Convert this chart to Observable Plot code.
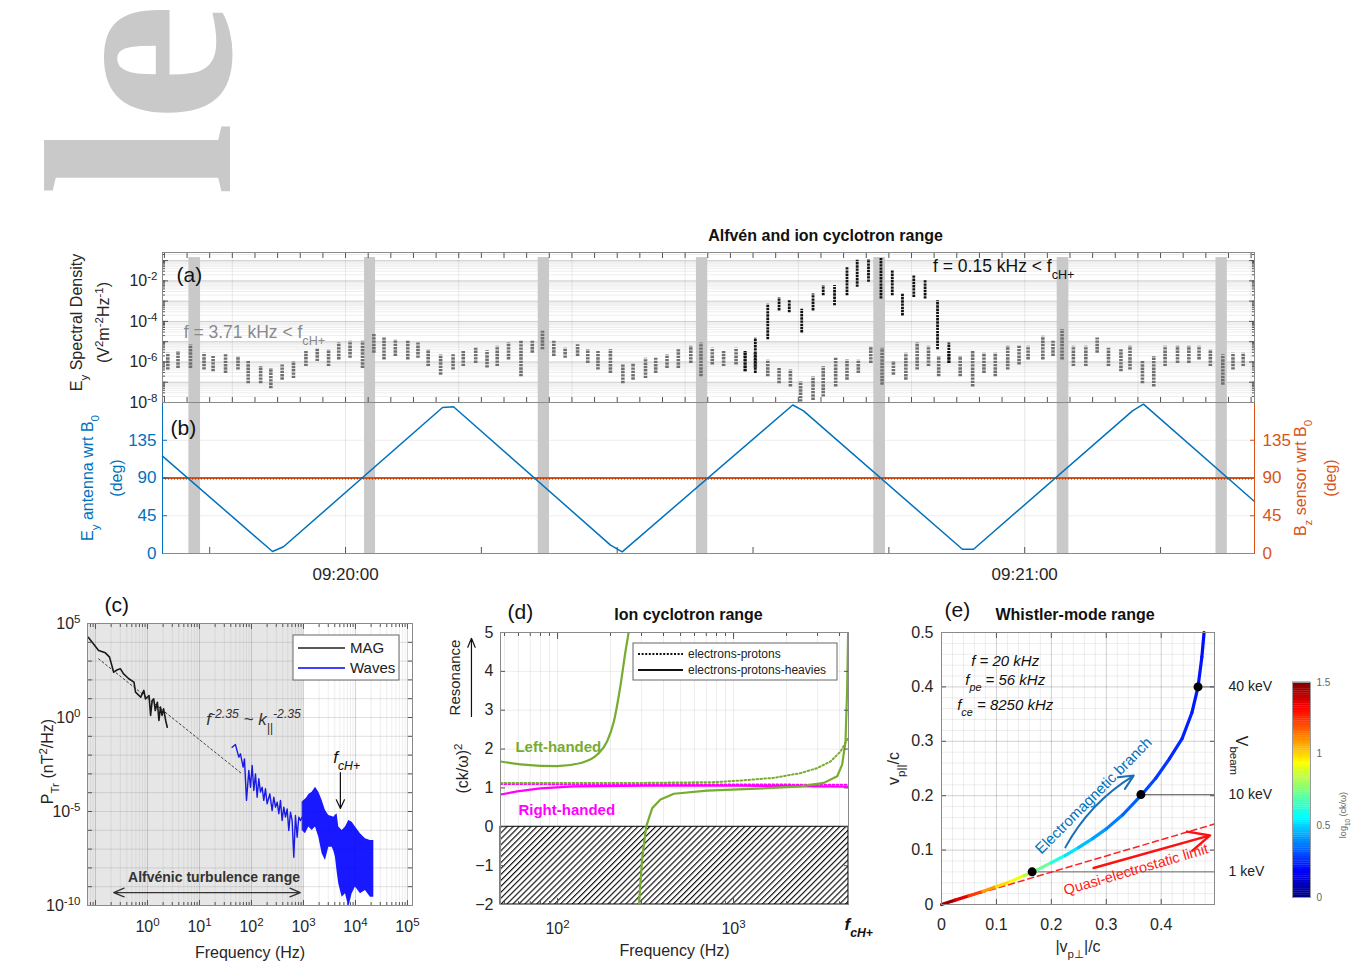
<!DOCTYPE html>
<html><head><meta charset="utf-8">
<script src="https://cdn.jsdelivr.net/npm/d3@7"></script>
<script src="https://cdn.jsdelivr.net/npm/@observablehq/plot@0.6"></script>
<style>
body{margin:0;background:#fff;}
#fig{position:relative;width:1363px;height:967px;overflow:hidden;font-family:'Liberation Sans',Arial,'DejaVu Sans',sans-serif;background:#fff;}
#fig svg{position:absolute;}
</style></head><body><div id="fig"></div>
<script>
// ================= DATA =================
// (a) E_y spectral density clusters: [seconds after 09:20:00, log10 low, log10 high]
const grayClusters = [
[-15.7,-6.40,-5.57],[-14.8,-6.32,-5.48],[-13.7,-6.32,-5.15],[-12.5,-6.40,-5.57],[-11.7,-6.48,-5.73],
[-10.6,-6.57,-5.65],[-9.5,-6.40,-5.73],[-8.6,-7.07,-5.98],[-7.5,-7.07,-6.23],[-6.6,-7.32,-6.32],
[-5.6,-6.90,-6.15],[-4.6,-6.82,-5.98],[-3.5,-6.23,-5.48],[-2.5,-5.98,-5.32],[-1.5,-6.23,-5.40],
[-0.6,-5.90,-5.07],[0.4,-5.82,-4.98],[1.5,-6.32,-4.98],[2.5,-5.57,-4.65],[3.4,-5.90,-4.82],
[4.4,-5.73,-4.90],[5.5,-5.90,-4.98],[6.4,-5.82,-5.07],[7.3,-6.23,-5.40],[8.4,-6.65,-5.65],
[9.5,-6.40,-5.65],[10.4,-6.23,-5.48],[11.5,-6.07,-5.32],[12.5,-6.30,-5.45],[13.4,-6.23,-5.23],
[14.4,-5.90,-5.07],[15.5,-6.73,-4.98],[16.5,-5.57,-4.98],[17.4,-5.40,-4.48],[18.4,-5.73,-4.98],
[19.4,-5.82,-5.32],[20.5,-5.73,-5.15],[21.4,-6.07,-5.40],[22.3,-6.40,-5.48],[23.4,-6.57,-5.40],
[24.5,-7.07,-6.15],[25.4,-6.90,-6.07],[26.5,-6.82,-5.82],[27.4,-6.57,-5.82],[28.4,-6.32,-5.65],
[29.4,-6.32,-5.40],[30.5,-6.07,-5.23],[31.4,-6.73,-5.07],[32.4,-6.15,-5.32],[33.4,-6.23,-5.48],
[34.5,-6.15,-5.32],[35.3,-6.48,-5.48],[36.2,-6.32,-5.57],[37.3,-6.73,-5.90],[38.3,-7.07,-6.32],
[39.3,-7.23,-6.40],[40.2,-7.98,-6.98],[41.3,-7.90,-6.73],[42.2,-7.73,-6.23],[43.3,-7.23,-5.82],
[44.3,-6.90,-5.90],[45.3,-6.57,-5.90],[46.4,-6.07,-5.25],[47.4,-7.15,-5.32],[48.4,-6.65,-5.98],
[49.5,-6.90,-5.57],[50.5,-6.40,-5.07],[51.5,-6.23,-5.23],[52.4,-6.73,-5.73],[53.3,-6.07,-5.48],
[54.3,-6.73,-5.73],[55.4,-7.23,-5.48],[56.4,-6.57,-5.57],[57.4,-6.73,-5.57],[58.5,-6.40,-5.23],
[59.5,-6.15,-5.23],[60.3,-5.90,-5.23],[61.6,-5.90,-4.73],[62.5,-5.73,-4.98],[63.3,-5.90,-4.40],
[64.3,-6.23,-5.23],[65.4,-6.23,-5.23],[66.4,-5.57,-4.82],[67.4,-6.23,-5.32],[68.5,-6.48,-5.40],
[69.3,-6.40,-5.23],[70.4,-7.07,-5.98],[71.4,-7.23,-5.73],[72.4,-6.23,-5.23],[73.5,-6.07,-5.23],
[74.5,-6.07,-5.23],[75.4,-5.90,-5.23],[76.4,-6.23,-5.40],[77.5,-7.15,-5.65],[78.4,-6.40,-5.57],
[79.3,-6.23,-5.57]];
const blackClusters = [
[35.3,-6.48,-5.48],[36.2,-6.57,-4.82],[37.3,-4.90,-3.15],[38.3,-3.48,-2.82],[39.2,-3.57,-2.98],
[40.3,-4.57,-3.40],[41.3,-3.48,-2.65],[42.2,-2.73,-2.23],[43.2,-3.23,-2.23],[44.3,-2.73,-1.32],
[45.2,-2.32,-0.98],[46.2,-2.07,-0.95],[47.3,-2.90,-0.90],[48.3,-2.73,-1.48],[49.2,-3.73,-2.65],
[50.2,-2.82,-1.73],[51.2,-2.90,-1.98],[52.3,-5.40,-2.98],[53.3,-6.07,-5.07]];
// (b) E_y antenna angle (deg) vertices and shaded crossing intervals (s after 09:20:00)
const antennaAngle = [[-16.17,116],[-6.45,2.4],[-5.48,8],[8.57,174],[9.54,175],[23.41,10],[24.44,2],
[39.51,177],[40.46,170],[54.5,5],[55.48,5],[69.52,170],[70.49,178],[80.3,62]];
const sensorAngle = 90;
const crossingBands = [[-13.84,-12.81],[1.68,2.65],[17.02,18.02],[31.0,32.0],[46.67,47.7],[62.87,63.9],[76.9,77.9]];
// (c) spectra [log10 f, log10 P]
const magSpectrum = [[-1.14,4.27],[-1.03,3.88],[-0.94,3.56],[-0.81,3.44],[-0.73,3.21],[-0.65,2.41],[-0.58,2.54],
[-0.52,2.59],[-0.46,2.32],[-0.36,2.06],[-0.26,1.88],[-0.23,1.35],[-0.18,1.22],[-0.13,1.08],[-0.07,1.44],
[-0.04,0.99],[0.03,1.17],[0.06,0.11],[0.09,0.90],[0.12,0.99],[0.15,0.37],[0.19,0.81],[0.22,-0.16],
[0.25,0.55],[0.28,0.11],[0.31,0.46],[0.35,-0.16],[0.38,-0.52]];
const wavesSpectrum = [[1.628,-1.58],[1.692,-1.44],[1.756,-2.11],[1.788,-1.93],[1.840,-2.64],[1.865,-2.20],
[1.904,-4.41],[1.949,-2.82],[1.981,-3.71],[2.013,-2.55],[2.045,-3.88],[2.077,-3.00],[2.109,-4.24],
[2.141,-3.26],[2.173,-3.97],[2.205,-3.71],[2.237,-4.41],[2.269,-3.79],[2.301,-4.59],[2.353,-4.06],
[2.397,-4.95],[2.429,-4.24],[2.462,-4.77],[2.494,-4.50],[2.526,-5.12],[2.558,-4.41],[2.590,-5.48],
[2.622,-4.77],[2.654,-5.30],[2.686,-4.86],[2.718,-6.01],[2.750,-5.04],[2.782,-5.48],[2.814,-7.43],
[2.846,-5.21],[2.878,-6.37],[2.910,-5.30],[2.942,-5.48],[2.974,-5.3]];
const wavesBand = [[2.974,-6.01,-4.50],[3.038,-6.19,-4.35],[3.071,-6.0,-4.24],[3.103,-5.83,-4.10],
[3.167,-6.01,-3.97],[3.231,-5.83,-3.71],[3.295,-6.37,-3.97],[3.359,-7.25,-4.41],[3.423,-7.61,-4.95],
[3.487,-6.90,-5.21],[3.551,-6.90,-5.27],[3.583,-7.10,-5.30],[3.615,-7.43,-5.20],[3.647,-8.20,-5.12],
[3.679,-8.85,-5.83],[3.744,-9.56,-6.01],[3.808,-9.38,-5.83],[3.872,-10.09,-5.48],[3.936,-9.38,-5.57],
[4.000,-9.02,-5.83],[4.096,-9.38,-6.19],[4.192,-9.20,-6.45],[4.288,-9.56,-6.54],[4.353,-9.56,-6.54]];
const powerLawFit = [[-0.94,3.12],[1.82,-3.0]];
const fcHArrowC = [3.71,-2.93,-4.84];          // log10 f, log10 P start, log10 P end
const alfvenRange = [-0.65,2.94,-9.31];        // log10 f from, to, log10 P
// (d) (ck/omega)^2 curves [log10 f, value]
const leftHeavyLow = [[1.676,1.68],[1.807,1.60],[1.998,1.56],[2.131,1.64],[2.226,1.86],[2.282,2.20],
[2.320,2.71],[2.358,3.65],[2.386,4.51],[2.405,5.03]];
const leftHeavyHigh = [[2.462,-2.03],[2.481,-0.80],[2.504,0.01],[2.538,0.48],[2.585,0.70],[2.661,0.85],
[2.850,0.93],[3.134,0.98],[3.380,1.04],[3.513,1.13],[3.589,1.30],[3.617,1.60],[3.636,2.20],[3.645,3.48],[3.651,5.05]];
const leftEP = [[1.676,1.13],[2.5,1.13],[2.9,1.15],[3.039,1.19],[3.229,1.26],[3.380,1.38],[3.475,1.51],
[3.551,1.68],[3.608,1.94],[3.636,2.16],[3.653,2.30]];
const rightHeavy = [[1.676,0.83],[1.771,0.91],[1.903,0.99],[2.093,1.04],[2.5,1.06],[3.0,1.06],[3.5,1.04],[3.653,1.03]];
const rightEP = [[1.676,1.10],[3.0,1.09],[3.653,1.08]];
// (e) whistler resonance curve [|v_perp|/c, v_par/c, log10(ck/omega)]
const eCurve = [[0.000,0.000,1.50],[0.025,0.008,1.42],[0.050,0.016,1.30],[0.075,0.024,1.15],[0.100,0.033,1.02],
[0.125,0.042,0.95],[0.150,0.053,0.88],[0.175,0.064,0.78],[0.200,0.077,0.66],[0.225,0.090,0.56],
[0.250,0.105,0.49],[0.275,0.121,0.44],[0.300,0.139,0.40],[0.330,0.165,0.35],[0.363,0.200,0.31],
[0.390,0.232,0.28],[0.415,0.268,0.26],[0.438,0.305,0.24],[0.456,0.353,0.23],[0.467,0.400,0.22],
[0.474,0.455,0.21],[0.478,0.500,0.20]];
const eBeams = [[0.165,0.06,"1 keV"],[0.363,0.202,"10 keV"],[0.467,0.40,"40 keV"]];
const eQuasiES = [[0,0],[0.497,0.148]];
const eQuasiArrow = [0.277,0.067,0.489,0.127];
const eEMArrow = [0.2255,0.105,0.35,0.237];
// tick labels
const aYTicks = [1e-8,1e-6,1e-4,1e-2];
const bYTicks = [0,45,90,135];
const timeLabels = [0,60];
const cXTicks = [1,10,100,1e3,1e4,1e5];
const cYTicks = [1e5,1,1e-5,1e-10];
const dXTicks = [100,1000];
const dYTicks = [-2,-1,0,1,2,3,4,5];
const eXTicks = [0,0.1,0.2,0.3,0.4];
const eYTicks = [0,0.1,0.2,0.3,0.4,0.5];
const cbTicks = [0,0.5,1,1.5];

// ================= HELPERS =================
const FONT = "'Liberation Sans', Arial, 'DejaVu Sans', sans-serif";
const fig = document.getElementById("fig");
const css = s => ({fontFamily: FONT, fontSize: s + "px", background: "transparent", color: "#262626", overflow: "visible"});
function place(svg, left, top) { svg.style.left = left + "px"; svg.style.top = top + "px"; fig.appendChild(svg); rich(svg); return svg; }
function rich(root) {
  root.querySelectorAll("text").forEach(el => {
    if (el.childElementCount) return;
    const t = el.textContent;
    if (!/[_^]\{/.test(t)) return;
    el.textContent = "";
    const re = /([_^])\{([^}]*)\}/g;
    let last = 0, m;
    const add = (s, k) => {
      const ts = document.createElementNS("http://www.w3.org/2000/svg", "tspan");
      ts.textContent = s;
      if (k) { ts.setAttribute("baseline-shift", k === "^" ? "super" : "sub"); ts.setAttribute("font-size", "72%"); }
      el.appendChild(ts);
    };
    while ((m = re.exec(t))) { if (m.index > last) add(t.slice(last, m.index)); add(m[2], m[1]); last = re.lastIndex; }
    if (last < t.length) add(t.slice(last));
  });
}
function logTicks(lo, hi) { const out = []; for (let n = Math.floor(Math.log10(lo)); n <= Math.ceil(Math.log10(hi)); n++) for (let k = 1; k < 10; k++) { const v = k * 10 ** n; if (v >= lo * 0.9999 && v <= hi * 1.0001) out.push(v); } return out; }
function decades(a, b) { return d3.range(a, b + 1).map(n => 10 ** n); }
const expFmt = d => `10^{${Math.round(Math.log10(d))}}`;
const T0 = Date.UTC(2000, 0, 1, 9, 20, 0);
const toDate = s => new Date(T0 + s * 1000);
const secs = (a, b, st) => d3.range(a, b + 1e-9, st).map(toDate);
const tMin = toDate(-16.17), tMax = toDate(80.3);
const inY = (anchor, ticks, size, color = "#555") => Plot.axisY(ticks, {anchor, tickSize: -size, tickFormat: () => "", label: null, color});
const inX = (anchor, ticks, size, color = "#555") => Plot.axisX(ticks, {anchor, tickSize: -size, tickFormat: () => "", label: null, color});
const GRID = {stroke: "#000", strokeOpacity: 0.07};
const GRID2 = {stroke: "#000", strokeOpacity: 0.12};
const FRAME = "#8a8a8a";
const jetDom = [0, 0.1875, 0.5625, 0.9375, 1.3125, 1.5];
const jetRange = ["#00007f", "#0000ff", "#00ffff", "#ffff00", "#ff0000", "#7f0000"];
const BLUE = "#0072BD", ORANGE = "#D95319";

// ================= WATERMARK =================
{
  const s = d3.create("svg").attr("width", 300).attr("height", 192).attr("viewBox", "0 0 300 192");
  s.append("text").attr("transform", "translate(230,3) rotate(-90)").attr("text-anchor", "end")
    .attr("font-family", "'Liberation Serif','DejaVu Serif',serif").attr("font-weight", "bold").attr("font-size", 268)
    .attr("fill", "#c9c9c9").text("Article");
  place(s.node(), 0, 0);
}

// ================= PANEL (b) =================
const angleRows = antennaAngle.map(([t, a]) => ({t: toDate(t), a}));
const bandRowsB = crossingBands.map(([a, b]) => ({t1: toDate(a), t2: toDate(b), y1: 0, y2: 180}));
place(Plot.plot({
  width: 1363, height: 204, marginLeft: 162, marginRight: 109, marginTop: 16, marginBottom: 37,
  style: css(17),
  x: {type: "utc", domain: [tMin, tMax], axis: null},
  y: {domain: [0, 180], axis: null},
  marks: [
    Plot.gridY([45, 90, 135], {stroke: "#000", strokeOpacity: 0.07}),
    Plot.gridX(timeLabels.map(toDate), {stroke: "#000", strokeOpacity: 0.1}),
    Plot.rect(bandRowsB, {x1: "t1", x2: "t2", y1: "y1", y2: "y2", fill: "#c9c9c9"}),
    Plot.ruleY([sensorAngle], {stroke: ORANGE, strokeWidth: 2}),
    Plot.ruleY([sensorAngle], {stroke: "#7a2608", strokeWidth: 1, strokeDasharray: "1,2", dy: 1}),
    Plot.line(angleRows, {x: "t", y: "a", stroke: BLUE, strokeWidth: 1.5}),
    Plot.text(["(b)"], {frameAnchor: "top-left", dx: 8, dy: 26, lineAnchor: "middle", fontSize: 21, text: d => d, fill: "#111"}),
    Plot.text(["E_{y} antenna wrt B_{0}"], {frameAnchor: "left", dx: -75, rotate: -90, textAnchor: "middle", text: d => d, fontSize: 16, fill: BLUE}),
    Plot.text(["(deg)"], {frameAnchor: "left", dx: -46, rotate: -90, textAnchor: "middle", text: d => d, fontSize: 16, fill: BLUE}),
    Plot.text(["B_{z} sensor wrt B_{0}"], {frameAnchor: "right", dx: 46, rotate: -90, textAnchor: "middle", text: d => d, fontSize: 16, fill: ORANGE}),
    Plot.text(["(deg)"], {frameAnchor: "right", dx: 76, rotate: -90, textAnchor: "middle", text: d => d, fontSize: 16, fill: ORANGE}),
    Plot.axisY(bYTicks, {anchor: "left", tickSize: 0, tickPadding: 6, label: null, color: BLUE}),
    Plot.axisY(bYTicks, {anchor: "right", tickSize: 0, tickPadding: 8, label: null, color: ORANGE}),
    inY("left", bYTicks, 5, BLUE), inY("right", bYTicks, 5, ORANGE),
    Plot.axisX(timeLabels.map(toDate), {anchor: "bottom", tickSize: 0, tickPadding: 14, tickFormat: d3.utcFormat("%H:%M:%S"), label: null}),
    inX("bottom", secs(-12, 80, 12), 6),
    Plot.frame({anchor: "bottom", stroke: FRAME}),
    Plot.frame({anchor: "left", stroke: BLUE}),
    Plot.frame({anchor: "right", stroke: ORANGE})
  ]
}), 0, 386);

// ================= PANEL (a) =================
const yTopA = 10 ** -0.6;
const grayRows = grayClusters.map(([t, lo, hi]) => ({t: toDate(t), lo: 10 ** lo, hi: 10 ** hi}));
const blackRows = blackClusters.map(([t, lo, hi]) => ({t: toDate(t), lo: 10 ** lo, hi: 10 ** hi}));
const bandRowsA = crossingBands.map(([a, b]) => ({t1: toDate(a), t2: toDate(b), y1: 1e-8, y2: 10 ** -0.85}));
const minorA = logTicks(1e-8, yTopA);
place(Plot.plot({
  width: 1363, height: 214, marginLeft: 162, marginRight: 109, marginTop: 52, marginBottom: 12,
  style: css(16),
  x: {type: "utc", domain: [tMin, tMax], axis: null},
  y: {type: "log", domain: [1e-8, yTopA], axis: null},
  marks: [
    Plot.gridY(minorA, GRID),
    Plot.gridY(decades(-8, -1), GRID2),
    Plot.gridX(secs(-10, 80, 10), {stroke: "#000", strokeOpacity: 0.08}),
    Plot.rect(bandRowsA, {x1: "t1", x2: "t2", y1: "y1", y2: "y2", fill: "#c9c9c9"}),
    Plot.ruleX(grayRows, {x: "t", y1: "lo", y2: "hi", stroke: "#707070", strokeWidth: 3.6, strokeDasharray: "2.4,0.9"}),
    Plot.ruleX(blackRows, {x: "t", y1: "lo", y2: "hi", stroke: "#111", strokeWidth: 2.8, strokeDasharray: "2.4,0.8"}),
    Plot.text([{t: toDate(-14.3), v: 10 ** -4.55}], {x: "t", y: "v", text: () => "f = 3.71 kHz < f_{cH+}", textAnchor: "start", fill: "#8a8a8a", fontSize: 17.5}),
    Plot.text([{t: toDate(51.9), v: 10 ** -1.3}], {x: "t", y: "v", text: () => "f = 0.15 kHz < f_{cH+}", textAnchor: "start", fill: "#111", fontSize: 17.5}),
    Plot.text([{t: toDate(42.4)}], {x: "t", frameAnchor: "top", dy: -17, lineAnchor: "middle", text: () => "Alfvén and ion cyclotron range", fontWeight: "bold", fontSize: 16, fill: "#111"}),
    Plot.text(["(a)"], {frameAnchor: "top-left", dx: 14, dy: 23, lineAnchor: "middle", fontSize: 21, text: d => d, fill: "#111"}),
    Plot.text(["E_{y} Spectral Density"], {frameAnchor: "left", dx: -86, dy: -5, rotate: -90, textAnchor: "middle", text: d => d, fontSize: 16}),
    Plot.text(["(V^{2}m^{-2}Hz^{-1})"], {frameAnchor: "left", dx: -59, dy: -5, rotate: -90, textAnchor: "middle", text: d => d, fontSize: 16}),
    Plot.axisY(aYTicks, {anchor: "left", tickSize: 0, tickPadding: 5, tickFormat: expFmt, label: null, fontSize: 16}),
    inY("left", minorA, 3), inY("right", minorA, 3), inY("left", decades(-8, -1), 6), inY("right", decades(-8, -1), 6),
    inX("top", secs(-16, 80, 2), 5), inX("bottom", secs(-16, 80, 2), 5),
    Plot.frame({stroke: FRAME})
  ]
}), 0, 200);

// ================= PANEL (c) =================
const toFP = ([lf, lp]) => ({f: 10 ** lf, p: 10 ** lp});
const xDomC = [0.0702, 1.25e5];
const svgC = Plot.plot({
  width: 440, height: 377, marginLeft: 87, marginRight: 28, marginTop: 33, marginBottom: 62,
  style: css(16),
  x: {type: "log", domain: xDomC, axis: null},
  y: {type: "log", domain: [1e-10, 1e5], axis: null},
  marks: [
    Plot.gridX(logTicks(0.08, 1e5), GRID),
    Plot.gridX(decades(-1, 5), GRID2),
    Plot.gridY(decades(-10, 5), GRID2),
    Plot.line(powerLawFit.map(toFP), {x: "f", y: "p", stroke: "#333", strokeWidth: 1, strokeDasharray: "2,2.5"}),
    Plot.line(magSpectrum.map(toFP), {x: "f", y: "p", stroke: "#000", strokeWidth: 1.6}),
    Plot.line(wavesSpectrum.map(toFP), {x: "f", y: "p", stroke: "#0000ff", strokeWidth: 1.4}),
    Plot.areaY(wavesBand.map(([lf, lo, hi]) => ({f: 10 ** lf, lo: 10 ** lo, hi: 10 ** hi})), {x: "f", y1: "lo", y2: "hi", fill: "#0000ff", fillOpacity: 0.9, clip: true}),
    Plot.rect([{x1: xDomC[0], x2: 1000, y1: 1e-10, y2: 1e5}], {x1: "x1", x2: "x2", y1: "y1", y2: "y2", fill: "#808080", fillOpacity: 0.2}),
    Plot.text([{f: 10 ** 2.04, p: 10 ** -0.1}], {x: "f", y: "p", text: () => "f^{-2.35} ~ k_{||}^{-2.35}", fontStyle: "italic", fontSize: 17, fill: "#333"}),
    Plot.text([{f: 10 ** 3.83, p: 10 ** -2.13}], {x: "f", y: "p", text: () => "f_{cH+}", fontStyle: "italic", fontSize: 17, fill: "#111"}),
    Plot.arrow([fcHArrowC], {x1: d => 10 ** d[0], x2: d => 10 ** d[0], y1: d => 10 ** d[1], y2: d => 10 ** d[2], stroke: "#111", strokeWidth: 1.2, headLength: 12, headAngle: 50}),
    Plot.text([{f: 10 ** 1.28, p: 10 ** -8.51}], {x: "f", y: "p", text: () => "Alfvénic turbulence range", fontWeight: "bold", fontSize: 14, fill: "#333"}),
    Plot.arrow([alfvenRange], {x1: d => 10 ** ((d[0] + d[1]) / 2), x2: d => 10 ** d[0], y1: d => 10 ** d[2], y2: d => 10 ** d[2], stroke: "#333", strokeWidth: 1.3, headLength: 13, headAngle: 45}),
    Plot.arrow([alfvenRange], {x1: d => 10 ** ((d[0] + d[1]) / 2), x2: d => 10 ** d[1], y1: d => 10 ** d[2], y2: d => 10 ** d[2], stroke: "#333", strokeWidth: 1.3, headLength: 13, headAngle: 45}),
    Plot.text(["(c)"], {frameAnchor: "top-left", dx: 17, dy: -18, lineAnchor: "middle", fontSize: 21, text: d => d, fill: "#111"}),
    Plot.text(["Frequency (Hz)"], {frameAnchor: "bottom", dy: 47, lineAnchor: "middle", text: d => d, fontSize: 16}),
    Plot.text(["P_{Tr} (nT^{2}/Hz)"], {frameAnchor: "left", dx: -40, dy: -3, rotate: -90, textAnchor: "middle", text: d => d, fontSize: 16}),
    Plot.axisX(cXTicks, {anchor: "bottom", tickSize: 0, tickPadding: 15, tickFormat: expFmt, label: null}),
    Plot.axisY(cYTicks, {anchor: "left", tickSize: 0, tickPadding: 7, tickFormat: expFmt, label: null}),
    inX("bottom", decades(-1, 5), 5), inX("top", decades(-1, 5), 5), inX("bottom", logTicks(0.08, 1e5), 3), inX("top", logTicks(0.08, 1e5), 3),
    inY("left", decades(-10, 5), 5), inY("right", decades(-10, 5), 5),
    Plot.frame({stroke: FRAME})
  ]
});
{
  const g = d3.select(svgC).append("g").attr("text-anchor", "start");
  g.append("rect").attr("x", 293).attr("y", 45).attr("width", 106).attr("height", 45).attr("fill", "#fff").attr("stroke", "#666");
  g.append("line").attr("x1", 298).attr("x2", 345).attr("y1", 58).attr("y2", 58).attr("stroke", "#222").attr("stroke-width", 1.5);
  g.append("line").attr("x1", 298).attr("x2", 345).attr("y1", 78).attr("y2", 78).attr("stroke", "#0000ff").attr("stroke-width", 1.5);
  g.append("text").attr("x", 350).attr("y", 63).attr("text-anchor", "start").attr("font-size", 15).attr("fill", "#222").text("MAG");
  g.append("text").attr("x", 350).attr("y", 83).attr("text-anchor", "start").attr("font-size", 15).attr("fill", "#222").text("Waves");
}
place(svgC, 0, 590);

// ================= PANEL (d) =================
const toFV = ([lf, v]) => ({f: 10 ** lf, v});
const xDomD = [10 ** 1.676, 10 ** 3.653];
const GREEN = "#77AC30", MAGENTA = "#ff00ff";
const svgD = Plot.plot({
  width: 440, height: 377, marginLeft: 60, marginRight: 32, marginTop: 42, marginBottom: 63,
  style: css(16),
  x: {type: "log", domain: xDomD, axis: null},
  y: {domain: [-2, 5], axis: null},
  marks: [
    Plot.gridX(logTicks(50, 4000), GRID),
    Plot.gridY(dYTicks, GRID),
    Plot.rect([{x1: xDomD[0], x2: xDomD[1], y1: -2, y2: 0}], {x1: "x1", x2: "x2", y1: "y1", y2: "y2", fill: "url(#hatchD)", stroke: "#000", strokeWidth: 1}),
    Plot.line(rightEP.map(toFV), {x: "f", y: "v", stroke: MAGENTA, strokeWidth: 2, strokeDasharray: "1.6,2.4", clip: true}),
    Plot.line(leftEP.map(toFV), {x: "f", y: "v", stroke: GREEN, strokeWidth: 2, strokeDasharray: "1.6,2.4", clip: true}),
    Plot.line(rightHeavy.map(toFV), {x: "f", y: "v", stroke: MAGENTA, strokeWidth: 2.2, clip: true}),
    Plot.line(leftHeavyLow.map(toFV), {x: "f", y: "v", stroke: GREEN, strokeWidth: 2.2, curve: "monotone-x", clip: true}),
    Plot.line(leftHeavyHigh.map(toFV), {x: "f", y: "v", stroke: GREEN, strokeWidth: 2.2, clip: true}),
    Plot.text([{f: 10 ** 1.761, v: 2.04}], {x: "f", y: "v", text: () => "Left-handed", textAnchor: "start", fontWeight: "bold", fontSize: 15, fill: GREEN}),
    Plot.text([{f: 10 ** 1.778, v: 0.42}], {x: "f", y: "v", text: () => "Right-handed", textAnchor: "start", fontWeight: "bold", fontSize: 15, fill: MAGENTA}),
    Plot.text(["(d)"], {frameAnchor: "top-left", dx: 7, dy: -20, lineAnchor: "middle", fontSize: 21, text: d => d, fill: "#111"}),
    Plot.text(["Ion cyclotron range"], {frameAnchor: "top", dx: 14, dy: -18, lineAnchor: "middle", fontSize: 16, fontWeight: "bold", text: d => d, fill: "#111"}),
    Plot.text(["Frequency (Hz)"], {frameAnchor: "bottom", dy: 46, lineAnchor: "middle", text: d => d, fontSize: 16}),
    Plot.text(["(ck/ω)^{2}"], {frameAnchor: "left", dx: -38, rotate: -90, textAnchor: "middle", text: d => d, fontSize: 16}),
    Plot.text(["Resonance"], {frameAnchor: "left", dx: -45, dy: -91, rotate: -90, textAnchor: "middle", text: d => d, fontSize: 15}),
    Plot.arrow([{f: 10 ** 1.511, a: 2.84, b: 4.85}], {x1: "f", x2: "f", y1: "a", y2: "b", stroke: "#111", strokeWidth: 1.2, headLength: 12, headAngle: 45}),
    Plot.text([{f: xDomD[1]}], {x: "f", frameAnchor: "bottom", dy: 20, dx: -4, textAnchor: "start", lineAnchor: "middle", text: () => "f_{cH+}", fontWeight: "bold", fontStyle: "italic", fontSize: 17, fill: "#111"}),
    Plot.axisX(dXTicks, {anchor: "bottom", tickSize: 0, tickPadding: 18, tickFormat: expFmt, label: null}),
    Plot.axisY(dYTicks, {anchor: "left", tickSize: 0, tickPadding: 7, label: null}),
    inX("bottom", logTicks(50, 4000), 3), inX("top", logTicks(50, 4000), 3), inX("bottom", dXTicks, 6), inX("top", dXTicks, 6),
    inY("left", dYTicks, 5), inY("right", dYTicks, 5),
    Plot.frame({stroke: FRAME})
  ]
});
{
  const defs = d3.select(svgD).insert("defs", ":first-child");
  const pat = defs.append("pattern").attr("id", "hatchD").attr("patternUnits", "userSpaceOnUse").attr("width", 4.2).attr("height", 4.2).attr("patternTransform", "rotate(45)");
  pat.append("rect").attr("width", 4.2).attr("height", 4.2).attr("fill", "#fff");
  pat.append("line").attr("x1", 0.6).attr("y1", 0).attr("x2", 0.6).attr("y2", 4.2).attr("stroke", "#000").attr("stroke-width", 1.1);
  const g = d3.select(svgD).append("g").attr("text-anchor", "start");
  g.append("rect").attr("x", 193).attr("y", 53).attr("width", 204).attr("height", 37).attr("fill", "#fff").attr("stroke", "#666");
  g.append("line").attr("x1", 198).attr("x2", 243).attr("y1", 64).attr("y2", 64).attr("stroke", "#111").attr("stroke-width", 2).attr("stroke-dasharray", "2,1.6");
  g.append("line").attr("x1", 198).attr("x2", 243).attr("y1", 80).attr("y2", 80).attr("stroke", "#111").attr("stroke-width", 2);
  g.append("text").attr("x", 248).attr("y", 68).attr("text-anchor", "start").attr("font-size", 12).attr("fill", "#222").text("electrons-protons");
  g.append("text").attr("x", 248).attr("y", 84).attr("text-anchor", "start").attr("font-size", 12).attr("fill", "#222").text("electrons-protons-heavies");
}
place(svgD, 440, 590);

// ================= PANEL (e) =================
const colorOpt = {type: "linear", domain: jetDom, range: jetRange, interpolate: "rgb"};
const eSegs = eCurve.slice(1).map((p, i) => ({x1: eCurve[i][0], y1: eCurve[i][1], x2: p[0], y2: p[1], c: (eCurve[i][2] + p[2]) / 2}));
const xMaxE = 0.497;
place(Plot.plot({
  width: 483, height: 377, marginLeft: 61, marginRight: 149, marginTop: 42, marginBottom: 63,
  style: css(16),
  x: {domain: [0, xMaxE], axis: null},
  y: {domain: [0, 0.5], axis: null},
  color: colorOpt,
  marks: [
    Plot.gridX(d3.range(0, 0.4961, 0.02), GRID),
    Plot.gridY(d3.range(0, 0.5001, 0.02), GRID),
    Plot.gridX(eXTicks, GRID2),
    Plot.gridY(eYTicks, GRID2),
    Plot.link(eBeams, {x1: d => d[0], x2: () => xMaxE, y1: d => d[1], y2: d => d[1], stroke: "#555", strokeWidth: 0.9}),
    Plot.line(eQuasiES, {x: d => d[0], y: d => d[1], stroke: "#ff2020", strokeWidth: 1.5, strokeDasharray: "6,4"}),
    Plot.link(eSegs, {x1: "x1", y1: "y1", x2: "x2", y2: "y2", stroke: "c", strokeWidth: 3.2, strokeLinecap: "round"}),
    Plot.dot(eBeams, {x: d => d[0], y: d => d[1], r: 4.5, fill: "#000"}),
    Plot.arrow([eQuasiArrow], {x1: d => d[0], y1: d => d[1], x2: d => d[2], y2: d => d[3], stroke: "#ff1010", strokeWidth: 2.5, headLength: 14, headAngle: 50}),
    Plot.arrow([eEMArrow], {x1: d => d[0], y1: d => d[1], x2: d => d[2], y2: d => d[3], stroke: "#1a6fb5", strokeWidth: 2, headLength: 12, headAngle: 50, bend: 15}),
    Plot.text([[0.277, 0.2]], {x: d => d[0], y: d => d[1], text: () => "Electromagnetic branch", rotate: -45, fontSize: 15, fill: BLUE}),
    Plot.text([[0.354, 0.064]], {x: d => d[0], y: d => d[1], text: () => "Quasi-electrostatic limit", rotate: -16.4, fontSize: 14.5, fill: "#ff1a1a"}),
    Plot.text([[0.116, 0.447, "f = 20 kHz"], [0.116, 0.412, "f_{pe} = 56 kHz"], [0.116, 0.366, "f_{ce} = 8250 kHz"]], {x: d => d[0], y: d => d[1], text: d => d[2], fontStyle: "italic", fontSize: 15, fill: "#111"}),
    Plot.text(eBeams, {x: () => xMaxE, y: d => d[1], text: d => d[2], dx: 14, textAnchor: "start", fontSize: 14, fill: "#222"}),
    Plot.text([[xMaxE, 0.274]], {x: d => d[0], y: d => d[1], dx: 27, rotate: 90, text: () => "V_{beam}", fontSize: 16, fill: "#222"}),
    Plot.text(["(e)"], {frameAnchor: "top-left", dx: 3, dy: -22, lineAnchor: "middle", fontSize: 21, text: d => d, fill: "#111"}),
    Plot.text(["Whistler-mode range"], {frameAnchor: "top", dx: -3, dy: -18, lineAnchor: "middle", fontSize: 16, fontWeight: "bold", text: d => d, fill: "#111"}),
    Plot.text(["|v_{p⊥}|/c"], {frameAnchor: "bottom", dy: 42, lineAnchor: "middle", text: d => d, fontSize: 16}),
    Plot.text(["v_{p||}/c"], {frameAnchor: "left", dx: -48, rotate: -90, textAnchor: "middle", text: d => d, fontSize: 16}),
    Plot.axisX(eXTicks, {anchor: "bottom", tickSize: 0, tickPadding: 14, tickFormat: d => String(d), label: null}),
    Plot.axisY(eYTicks, {anchor: "left", tickSize: 0, tickPadding: 8, tickFormat: d => String(d), label: null}),
    inX("bottom", eXTicks, 5), inX("top", eXTicks, 5), inY("left", eYTicks, 5), inY("right", eYTicks, 5),
    Plot.frame({stroke: FRAME})
  ]
}), 880, 590);

// ================= COLORBAR =================
const cbStep = 0.015;
place(Plot.plot({
  width: 101, height: 240, marginLeft: 30, marginRight: 53, marginTop: 12, marginBottom: 13,
  style: css(10),
  x: {domain: [0, 1], axis: null},
  y: {domain: [0, 1.5], axis: null},
  color: colorOpt,
  marks: [
    Plot.rect(d3.range(0, 1.5 - 1e-9, cbStep), {x1: () => 0, x2: () => 1, y1: d => d, y2: d => d + cbStep + 0.002, fill: d => d + cbStep / 2}),
    Plot.axisY(cbTicks, {anchor: "right", tickSize: 0, tickPadding: 6, tickFormat: d => String(d), label: null, color: "#666"}),
    Plot.text(["log_{10} (ck/ω)"], {frameAnchor: "right", dx: 33, dy: 25, rotate: -90, textAnchor: "middle", text: d => d, fontSize: 9, fill: "#666"}),
    Plot.frame({stroke: "#999"})
  ]
}), 1262, 670);
</script></body></html>
